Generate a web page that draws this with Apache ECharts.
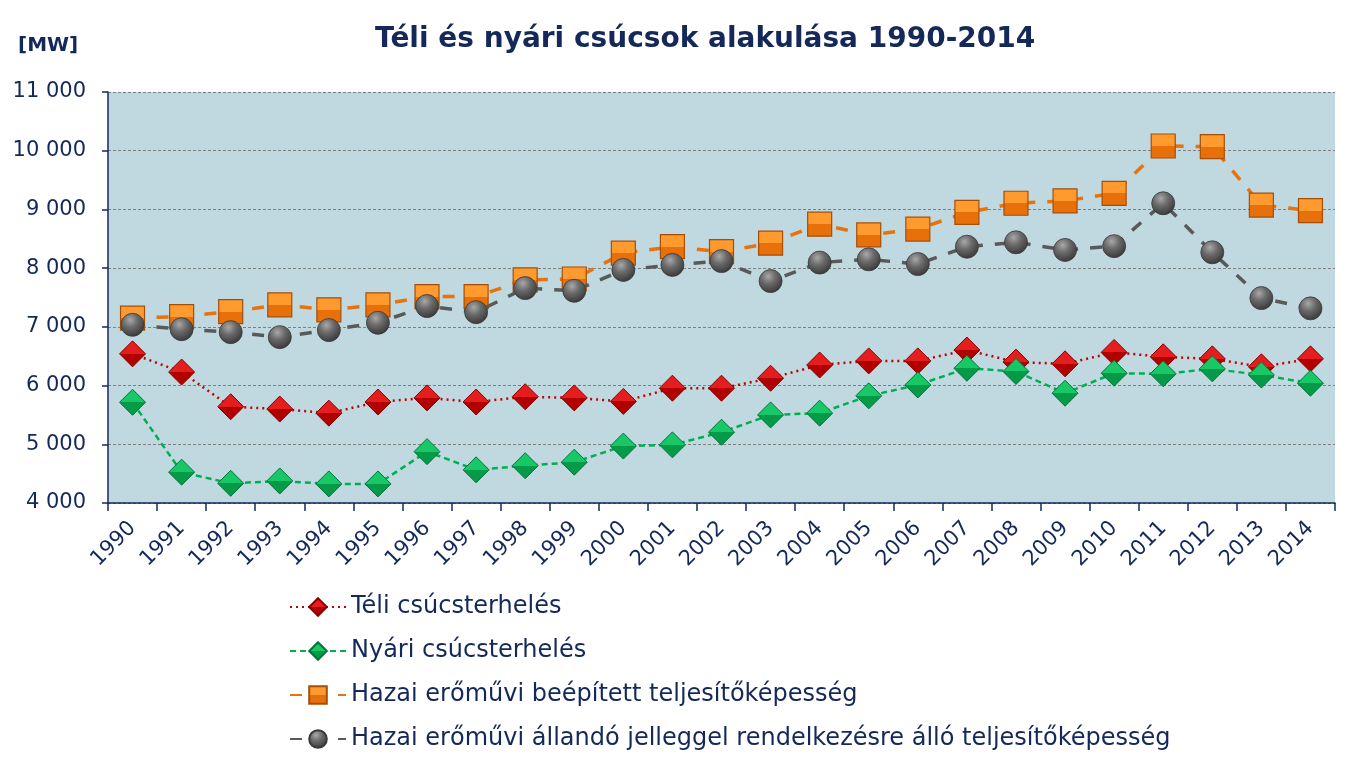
<!DOCTYPE html>
<html><head><meta charset="utf-8">
<script src="https://cdn.jsdelivr.net/npm/echarts@6/dist/echarts.min.js"></script>
<style>html,body{margin:0;padding:0;background:#fff}#c{width:1358px;height:768px}</style>
</head><body><div id="c"></div>
<script>
const years = ['1990','1991','1992','1993','1994','1995','1996','1997','1998','1999','2000','2001','2002','2003','2004','2005','2006','2007','2008','2009','2010','2011','2012','2013','2014'];
const teli = [6540,6230,5640,5600,5530,5720,5790,5720,5810,5790,5730,5955,5955,6125,6350,6420,6420,6605,6400,6370,6565,6490,6455,6320,6455];
const nyari = [5715,4525,4335,4375,4325,4325,4875,4565,4635,4695,4970,4990,5205,5500,5530,5825,6010,6295,6240,5870,6210,6200,6285,6180,6040];
const beepitett = [7150,7175,7260,7375,7290,7375,7515,7515,7800,7815,8255,8365,8280,8425,8750,8565,8665,8950,9105,9145,9275,10080,10070,9075,8980];
const allando = [7035,6960,6910,6825,6945,7070,7355,7250,7660,7615,7970,8055,8120,7780,8095,8150,8070,8365,8440,8310,8375,9105,8270,7490,7315];
const seriesNames = ['Téli csúcsterhelés','Nyári csúcsterhelés','Hazai erőművi beépített teljesítőképesség','Hazai erőművi állandó jelleggel rendelkezésre álló teljesítőképesség'];
const yTicks = [4000,5000,6000,7000,8000,9000,10000,11000];

const navy = '#14285A';
const font = 'DejaVu Sans';
function lg(c1,c2){return new echarts.graphic.LinearGradient(0,0,0,1,[{offset:0,color:c1},{offset:0.5,color:c1},{offset:0.5,color:c2},{offset:1,color:c2}]);}
function rg(){return new echarts.graphic.RadialGradient(0.4,0.3,0.7,[{offset:0,color:'#A8A8A8'},{offset:0.45,color:'#6A6A6A'},{offset:1,color:'#3A3A3A'}]);}

const chart = echarts.init(document.getElementById('c'));
chart.setOption({
  animation:false,
  textStyle:{fontFamily:font},
  title:{text:'Téli és nyári csúcsok alakulása 1990-2014',left:370,top:21,
    textStyle:{fontFamily:font,fontSize:28,fontWeight:'bold',color:navy}},
  graphic:[{type:'text',left:18,top:36,style:{text:'[MW]',font:'bold 20px '+font,fill:navy}}],
  grid:{left:108,right:23,top:92,bottom:265,show:true,backgroundColor:'#C0D9E1',borderWidth:0},
  legend:{orient:'vertical',left:284,top:589,itemGap:18,itemWidth:56,itemHeight:22,
    textStyle:{fontFamily:font,fontSize:24,color:navy,lineHeight:26},data:seriesNames},
  xAxis:{type:'category',data:years,boundaryGap:true,
    axisLine:{lineStyle:{color:navy,width:1.5}},
    axisTick:{show:true,length:8,lineStyle:{color:navy,width:1.5}},
    axisLabel:{rotate:45,fontSize:21,color:navy,fontFamily:font,margin:22}},
  yAxis:{type:'value',min:yTicks[0],max:yTicks[yTicks.length-1],interval:1000,
    axisLine:{show:true,lineStyle:{color:navy,width:1.5}},
    axisTick:{show:true,length:6,lineStyle:{color:navy,width:1.5}},
    axisLabel:{fontSize:21,color:navy,fontFamily:font,margin:22,
      formatter:v=>String(v).replace(/\B(?=(\d{3})+(?!\d))/g,' ')},
    splitLine:{show:true,lineStyle:{color:'#7F7F7F',type:[3,2],width:1}}},
  series:[
    {name:seriesNames[0],type:'line',data:teli,symbol:'diamond',symbolSize:[26,26],z:2,
      lineStyle:{color:'#C00000',width:2.5,type:[2,4]},
      itemStyle:{color:lg('#E41E1E','#B00000'),borderColor:'#8A0000',borderWidth:1}},
    {name:seriesNames[1],type:'line',data:nyari,symbol:'diamond',symbolSize:[26,26],z:3,
      lineStyle:{color:'#00B050',width:2.5,type:[6,4]},
      itemStyle:{color:lg('#18C866','#049A48'),borderColor:'#03753A',borderWidth:1}},
    {name:seriesNames[2],type:'line',data:beepitett,symbol:'rect',symbolSize:[24,24],z:4,
      lineStyle:{color:'#E8720C',width:3.5,type:[12,12]},
      itemStyle:{color:lg('#FF9A2E','#E8700A'),borderColor:'#A64E08',borderWidth:1.2}},
    {name:seriesNames[3],type:'line',data:allando,symbol:'circle',symbolSize:23,z:5,
      lineStyle:{color:'#595959',width:3.5,type:[12,12]},
      itemStyle:{color:rg(),borderColor:'#3A3A3A',borderWidth:0.8}}
  ]
});
</script></body></html>
